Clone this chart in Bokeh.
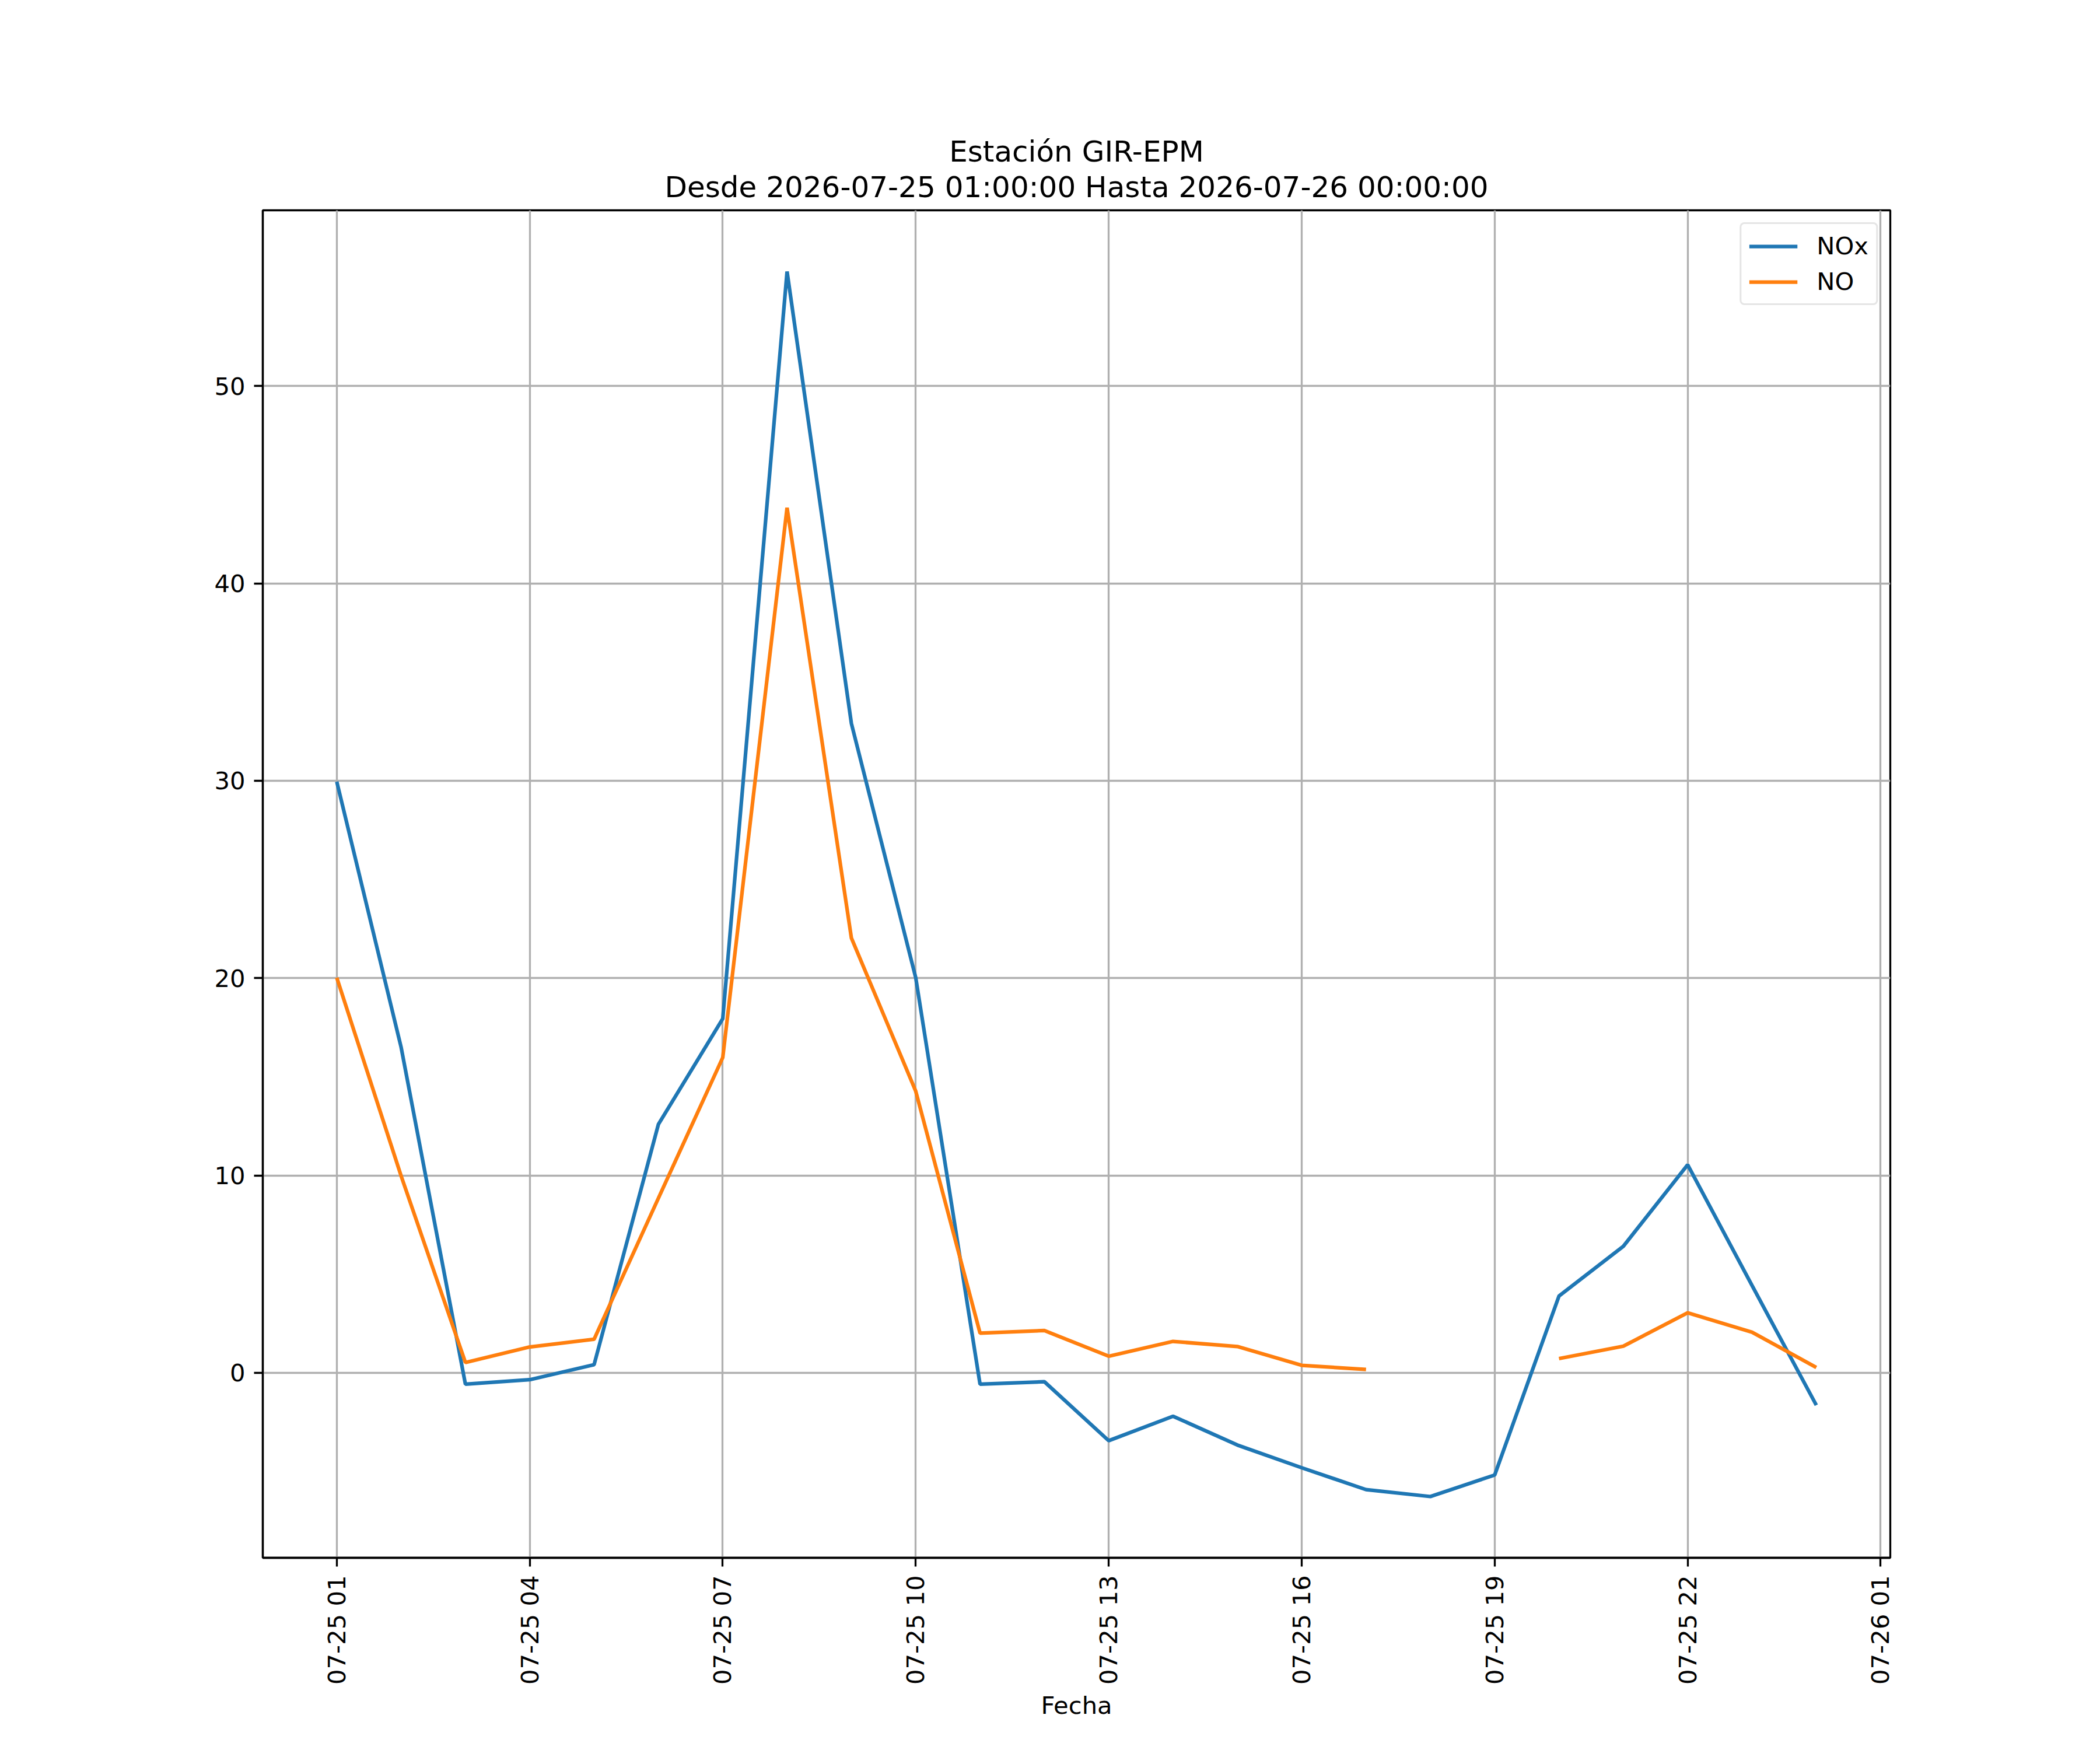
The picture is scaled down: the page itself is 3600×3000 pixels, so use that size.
import numpy as np
import pandas as pd
from bokeh.plotting import figure
from bokeh.models import Range1d, FixedTicker, DatetimeTickFormatter, Legend, LegendItem, Title
from bokeh.embed import file_html
from bokeh.resources import INLINE

# hourly readings, 2026-07-25 01:00 .. 2026-07-26 00:00
times = pd.date_range("2026-07-25 01:00", periods=24, freq="h")
nox = [29.95, 16.5, -0.58, -0.35, 0.41, 12.59, 17.94, 55.8, 32.9, 20.02,
       -0.58, -0.45, -3.44, -2.2, -3.66, -4.81, -5.92, -6.27, -5.18, 3.89,
       6.41, 10.54, 4.43, -1.64]
no = [20.02, 9.98, 0.52, 1.31, 1.7, 8.85, 15.97, 43.83, 22.03, 14.27,
      2.01, 2.14, 0.84, 1.59, 1.33, 0.38, 0.17, np.nan, np.nan, 0.72,
      1.35, 3.04, 2.06, 0.27]
tick_times = pd.date_range("2026-07-25 01:00", "2026-07-26 01:00", freq="3h")

title_lines = ["Estación GIR-EPM",
               "Desde 2026-07-25 01:00:00 Hasta 2026-07-26 00:00:00"]
font = "DejaVu Sans"
fs = "41.7px"

# matplotlib style 5% margins
span = times[-1] - times[0]
x0 = times[0] - span * 0.05
x1 = times[-1] + span * 0.05
vals = [v for v in nox + no if not np.isnan(v)]
ymin, ymax = min(vals), max(vals)
ypad = (ymax - ymin) * 0.05

p = figure(width=3584, height=2984, x_axis_type="datetime", title=None,
           output_backend="svg", toolbar_location=None,
           x_range=Range1d(x0, x1), y_range=Range1d(ymin - ypad, ymax + ypad),
           min_border_left=450, min_border_right=344,
           min_border_top=360, min_border_bottom=314)

# second line goes in first (closest to the frame)
for i, txt in enumerate(reversed(title_lines)):
    t = Title(text=txt, align="center", text_font=font, text_font_size="50px",
              text_font_style="normal", text_color="black",
              standoff=22 if i == 0 else -21)
    p.add_layout(t, "above")

r1 = p.line(times, nox, line_color="#1f77b4", line_width=6.25)
r2 = p.line(times, no, line_color="#ff7f0e", line_width=6.25)

p.xaxis.ticker = FixedTicker(ticks=[t.value // 10**6 for t in tick_times])
fmt = "%m-%d %H"
p.xaxis.formatter = DatetimeTickFormatter(hours=fmt, hourmin=fmt, days=fmt, months=fmt,
                                          minutes=fmt, minsec=fmt, seconds=fmt, years=fmt)
p.xaxis.major_label_orientation = np.pi / 2
p.xaxis.axis_label = "Fecha"
p.yaxis.ticker = FixedTicker(ticks=[0, 10, 20, 30, 40, 50])

for ax in (p.xaxis, p.yaxis):
    ax.major_label_text_font = font
    ax.major_label_text_font_size = fs
    ax.major_label_text_color = "black"
    ax.axis_label_text_font = font
    ax.axis_label_text_font_size = fs
    ax.axis_label_text_font_style = "normal"
    ax.axis_label_text_color = "black"
    ax.axis_label_standoff = 8
    ax.major_label_standoff = 15
    ax.major_tick_out = 15
    ax.major_tick_in = 0
    ax.major_tick_line_width = 3.3
    ax.major_tick_line_color = "black"
    ax.minor_tick_line_color = None
    ax.axis_line_width = 3.3
    ax.axis_line_color = "black"

p.grid.grid_line_color = "#b0b0b0"
p.grid.grid_line_width = 3.3
p.outline_line_color = "black"
p.outline_line_width = 3.3
p.outline_line_alpha = 1.0

legend = Legend(items=[LegendItem(label="NOx", renderers=[r1]),
                       LegendItem(label="NO", renderers=[r2])],
                location="top_right")
legend.label_text_font = font
legend.label_text_font_size = fs
legend.label_text_color = "black"
legend.glyph_width = 83
legend.glyph_height = 42
legend.label_height = 42
legend.label_standoff = 33
legend.spacing = 12
legend.padding = 13
legend.margin = 21
legend.border_line_color = "#cccccc"
legend.border_line_width = 3.3
legend.background_fill_alpha = 0.8
legend.border_radius = 8
p.add_layout(legend)

open("out.html", "w").write(file_html(p, INLINE))
